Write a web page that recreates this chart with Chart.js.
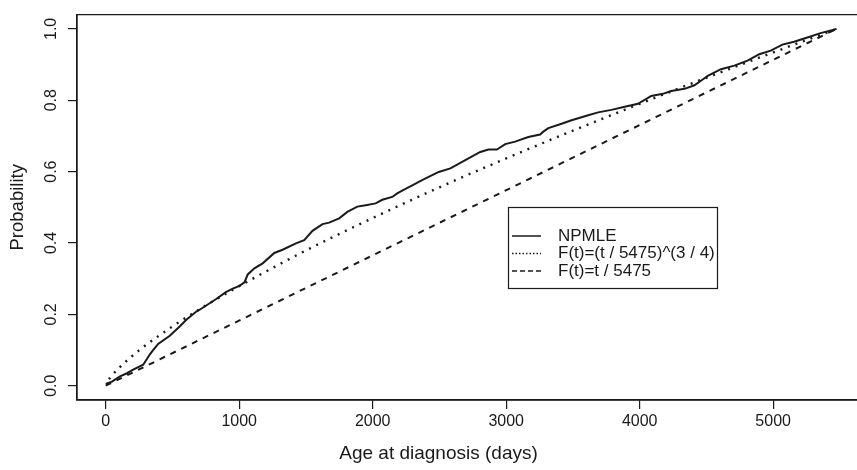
<!DOCTYPE html>
<html><head><meta charset="utf-8">
<script src="https://cdn.jsdelivr.net/npm/chart.js@4"></script>
<style>html,body{margin:0;padding:0;background:#fff}canvas{display:block}</style>
</head><body>
<canvas id="c" width="857" height="470"></canvas>
<script>
// ---- data ----
const npmleT = [0, 50, 107, 160, 206, 281, 331, 355, 393, 480, 554, 604, 679, 704, 828, 900, 952, 1002, 1040, 1064, 1114, 1176, 1263, 1325, 1425, 1487, 1549, 1624, 1674, 1749, 1810, 1885, 1948, 2022, 2072, 2146, 2184, 2221, 2300, 2370, 2495, 2582, 2694, 2806, 2868, 2930, 2993, 3067, 3166, 3254, 3278, 3316, 3415, 3490, 3614, 3689, 3788, 3888, 3987, 4087, 4174, 4236, 4336, 4410, 4472, 4510, 4609, 4709, 4808, 4896, 4982, 5069, 5157, 5256, 5355, 5475];
const npmleP = [0.005, 0.012, 0.026, 0.035, 0.045, 0.059, 0.088, 0.100, 0.117, 0.140, 0.166, 0.185, 0.208, 0.213, 0.243, 0.262, 0.272, 0.280, 0.290, 0.312, 0.329, 0.343, 0.372, 0.381, 0.399, 0.408, 0.434, 0.453, 0.457, 0.469, 0.487, 0.502, 0.506, 0.511, 0.521, 0.529, 0.539, 0.547, 0.562, 0.576, 0.599, 0.609, 0.632, 0.655, 0.662, 0.662, 0.677, 0.684, 0.697, 0.704, 0.712, 0.722, 0.734, 0.744, 0.758, 0.766, 0.773, 0.782, 0.790, 0.812, 0.818, 0.826, 0.832, 0.842, 0.858, 0.868, 0.887, 0.897, 0.911, 0.929, 0.939, 0.956, 0.964, 0.976, 0.988, 1.000];
const powT = [25, 50, 100, 250, 500, 750, 1000, 1500, 2000, 2500, 3000, 3500, 4000, 4500, 5000, 5475];
const powP = [0.018, 0.030, 0.050, 0.099, 0.166, 0.225, 0.279, 0.379, 0.470, 0.556, 0.637, 0.715, 0.790, 0.863, 0.934, 1.000];
const linT = [0, 5475];
const linP = [0, 1];
const xTicks = [0, 1000, 2000, 3000, 4000, 5000];
const xTickLabels = ['0', '1000', '2000', '3000', '4000', '5000'];
const yTicks = [0, 0.2, 0.4, 0.6, 0.8, 1.0];
const yTickLabels = ['0.0', '0.2', '0.4', '0.6', '0.8', '1.0'];
const seriesLabels = ['NPMLE', 'F(t)=(t / 5475)^(3 / 4)', 'F(t)=t / 5475'];
const xTitle = 'Age at diagnosis (days)';
const yTitle = 'Probability';

// ---- styling ----
const ink = '#1a1a1a';
const FONT = "'Liberation Sans', Arial, sans-serif";
const XTITLE_SIZE = 19, YTITLE_SIZE = 18.5, TITLE_PAD = 5;
const titleH = XTITLE_SIZE * 1.2 + TITLE_PAD;
const PAD_LEFT = 20;

const toXY = (ts, ps) => ts.map((t, i) => ({x: t, y: ps[i]}));

// plot frame: top, left, bottom (right side is cut off in the reference)
const boxPlugin = {
  id: 'rbox',
  afterDraw(chart) {
    const {ctx, chartArea: a} = chart;
    ctx.save();
    ctx.strokeStyle = ink; ctx.lineWidth = 1.3; ctx.setLineDash([]);
    ctx.beginPath();
    ctx.moveTo(chart.width, a.top); ctx.lineTo(a.left, a.top);
    ctx.lineTo(a.left, a.bottom); ctx.lineTo(chart.width, a.bottom);
    ctx.stroke();
    ctx.restore();
  }
};

const legendPlugin = {
  id: 'rlegend',
  afterDraw(chart) {
    const ctx = chart.ctx;
    const bx = 508, by = 207, bw = 209, bh = 81;
    const rows = [236, 253.5, 271];
    ctx.save();
    ctx.strokeStyle = ink; ctx.lineWidth = 1.2; ctx.setLineDash([]);
    ctx.strokeRect(bx + 0.5, by + 0.5, bw, bh);
    chart.data.datasets.forEach((ds, i) => {
      const y = rows[i];
      ctx.beginPath();
      ctx.lineWidth = 1.5;
      ctx.setLineDash(i === 0 ? [] : (i === 1 ? [1.5, 2] : [5, 3]));
      ctx.moveTo(512, y); ctx.lineTo(541, y);
      ctx.stroke();
      ctx.setLineDash([]);
      ctx.fillStyle = ink;
      ctx.font = '17px ' + FONT;
      ctx.textBaseline = 'middle';
      ctx.textAlign = 'left';
      ctx.fillText(ds.label, 558, y);
    });
    ctx.restore();
  }
};

new Chart(document.getElementById('c'), {
  type: 'line',
  data: {
    datasets: [
      {label: seriesLabels[0], data: toXY(npmleT, npmleP), borderColor: ink, borderWidth: 2, pointRadius: 0, tension: 0, fill: false},
      {label: seriesLabels[1], data: toXY(powT, powP), borderColor: ink, borderWidth: 2.4, borderDash: [2, 6], borderCapStyle: 'butt', pointRadius: 0, cubicInterpolationMode: 'monotone', fill: false},
      {label: seriesLabels[2], data: toXY(linT, linP), borderColor: ink, borderWidth: 2, borderDash: [6, 6], borderCapStyle: 'butt', pointRadius: 0, tension: 0, fill: false}
    ]
  },
  options: {
    responsive: false,
    animation: false,
    events: [],
    layout: {padding: {left: PAD_LEFT, right: 0, top: 13, bottom: 0}},
    plugins: {
      legend: {display: false},
      tooltip: {enabled: false},
      title: {display: true, position: 'bottom', text: xTitle, color: ink,
        font: {family: FONT, size: XTITLE_SIZE, weight: 'normal'}, padding: {top: 0, bottom: TITLE_PAD}}
    },
    scales: {
      x: {
        type: 'linear', min: -215, max: 5628,
        afterBuildTicks(s) { s.ticks = xTicks.map(v => ({value: v})); },
        afterFit(s) { s.height = 70 - titleH; },
        ticks: {callback: (v, i) => xTickLabels[i], color: ink, font: {family: FONT, size: 16}, padding: 3, maxRotation: 0, autoSkip: false},
        grid: {display: true, drawOnChartArea: false, drawTicks: true, tickLength: 9, color: ink, lineWidth: 1.2},
        border: {display: true, color: ink, width: 1.3}
      },
      y: {
        type: 'linear', min: -0.04, max: 1.04,
        afterBuildTicks(s) { s.ticks = yTicks.map(v => ({value: v})); },
        afterFit(s) { s.width = 77 - PAD_LEFT; },
        ticks: {callback: (v, i) => yTickLabels[i], minRotation: 90, maxRotation: 90, crossAlign: 'center', padding: 5, color: ink, font: {family: FONT, size: 16}, autoSkip: false},
        grid: {display: true, drawOnChartArea: false, drawTicks: true, tickLength: 9, color: ink, lineWidth: 1.2},
        border: {display: true, color: ink, width: 1.3},
        title: {display: true, text: yTitle, color: ink, font: {family: FONT, size: YTITLE_SIZE}, padding: {top: 7 - PAD_LEFT, bottom: 0}}
      }
    }
  },
  plugins: [boxPlugin, legendPlugin]
});
</script>
</body></html>
